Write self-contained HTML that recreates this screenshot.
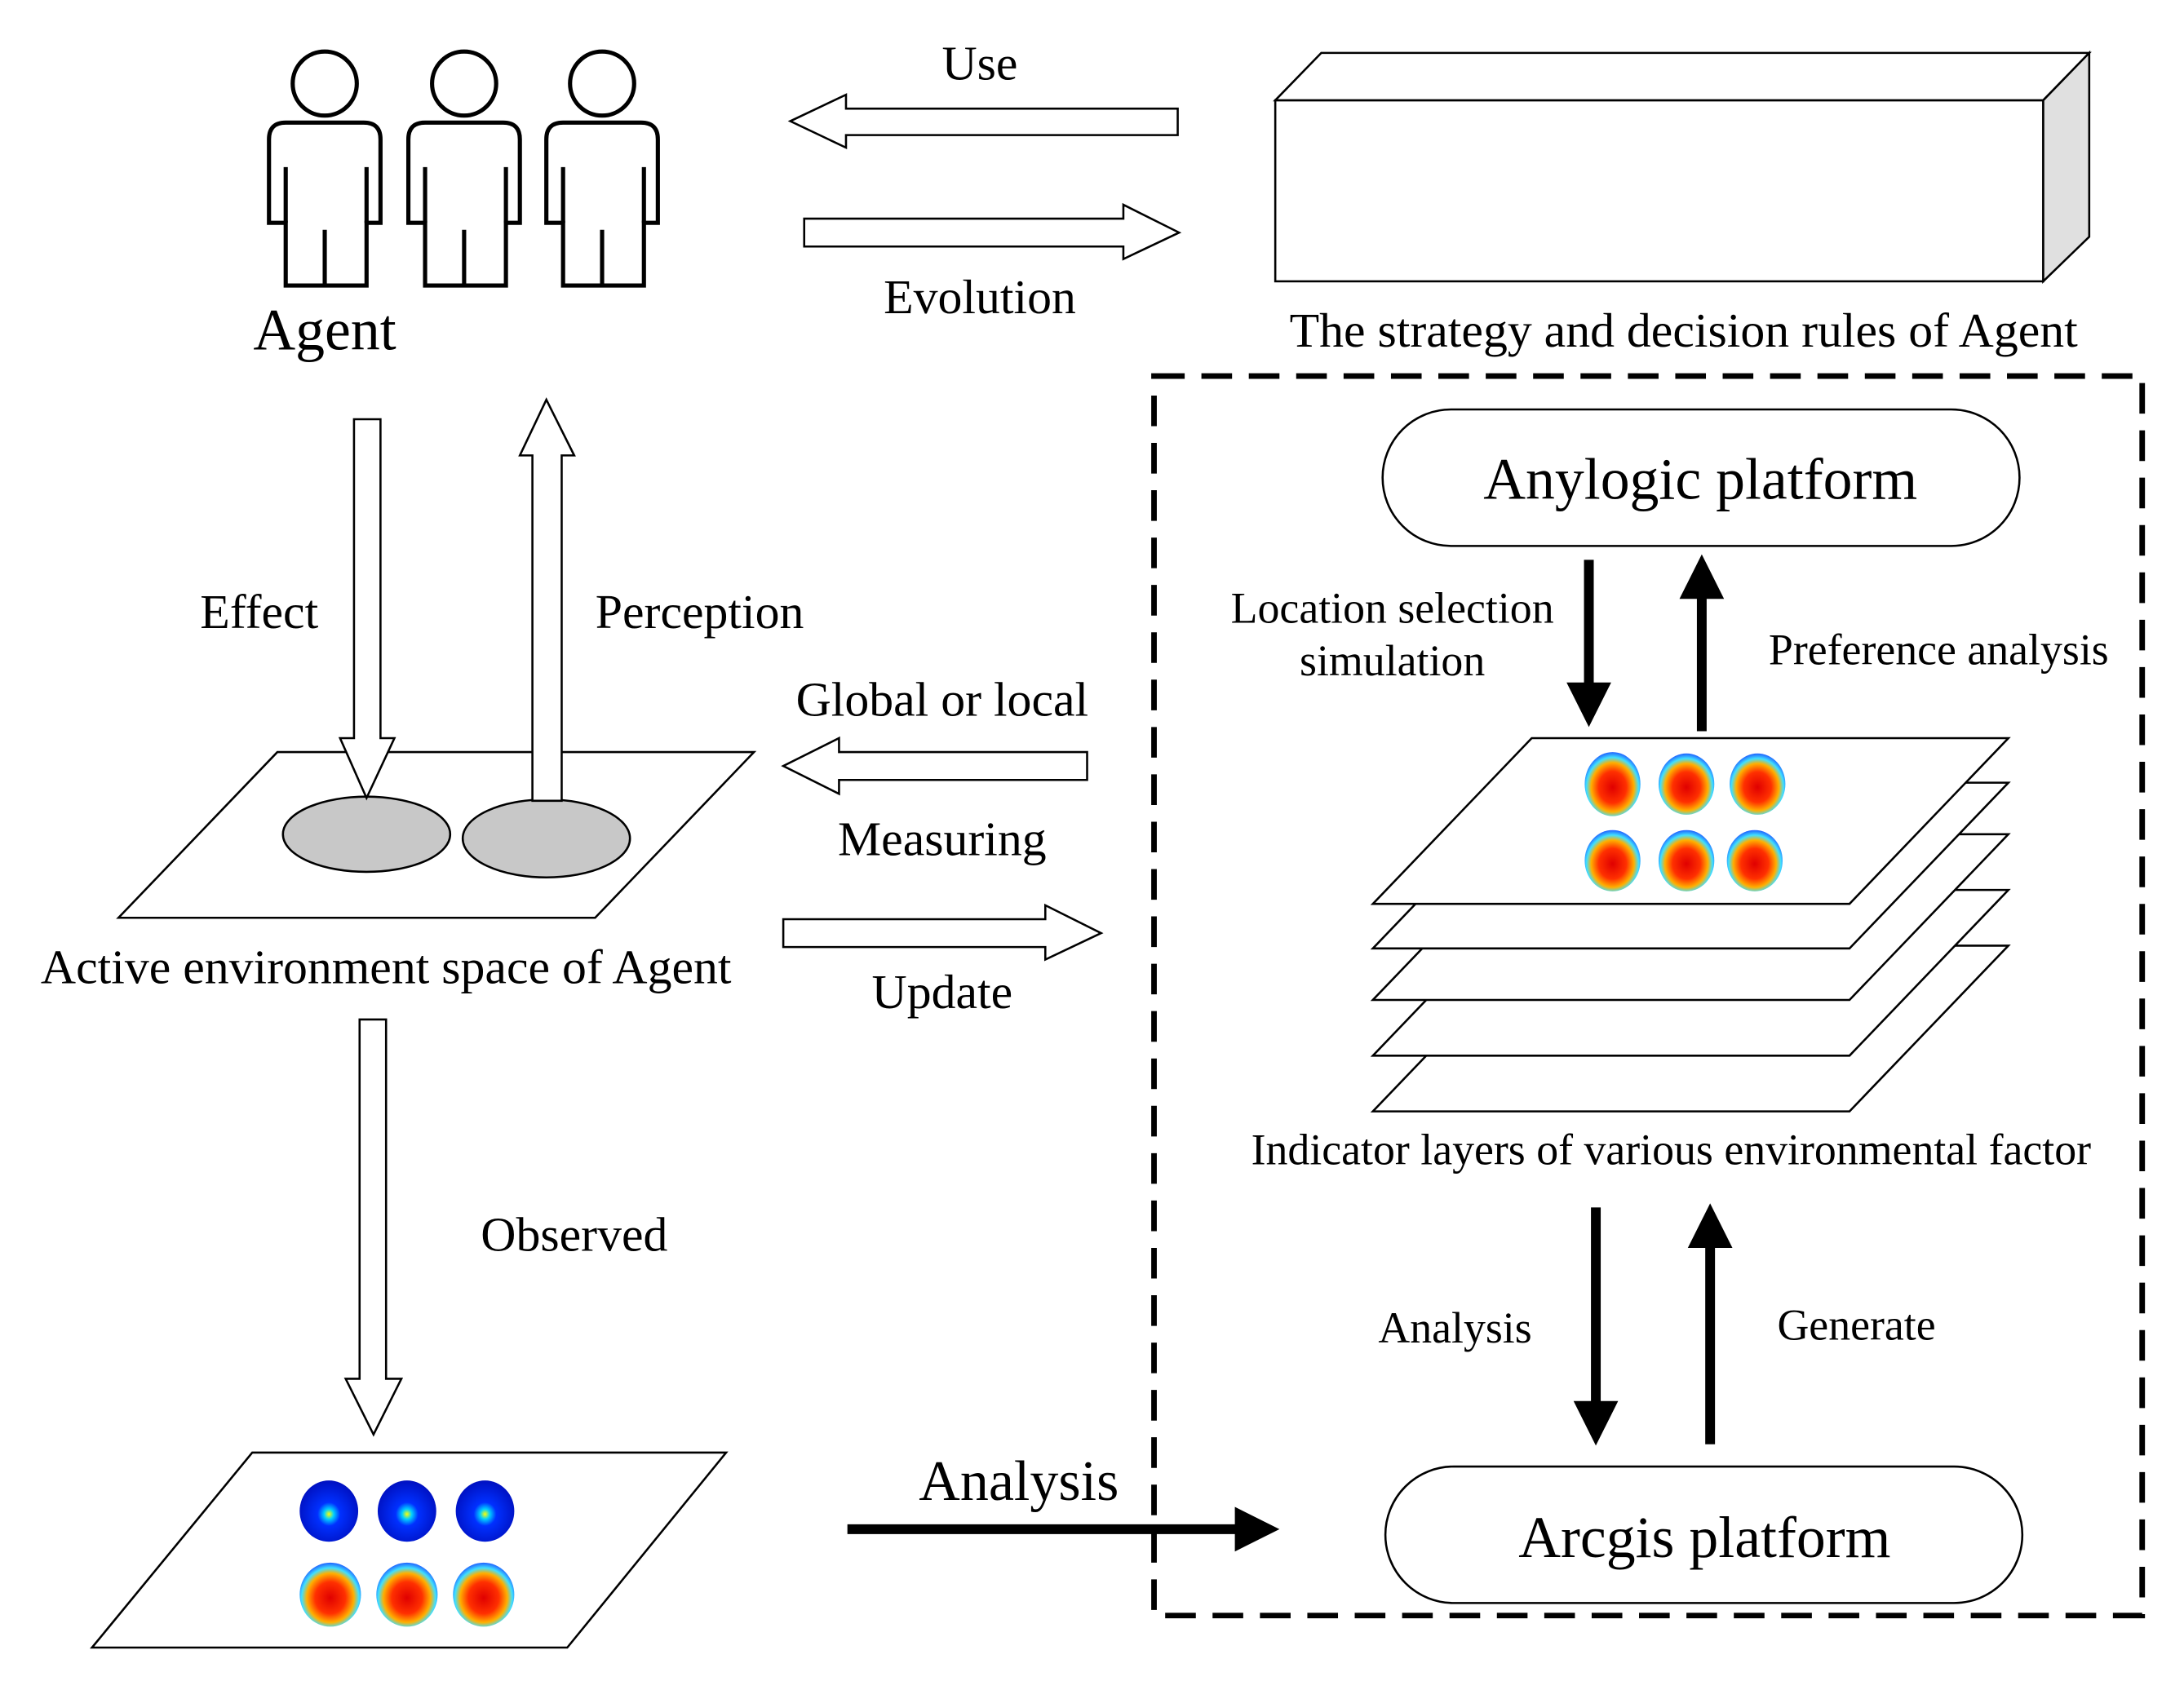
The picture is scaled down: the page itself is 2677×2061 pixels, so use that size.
<!DOCTYPE html>
<html><head><meta charset="utf-8"><style>
html,body{margin:0;padding:0;background:#fff;}
svg{display:block;}
text{font-family:"Liberation Serif",serif;fill:#000;}
</style></head><body>
<svg width="2677" height="2061" viewBox="0 0 1567 1207" preserveAspectRatio="none" xmlns="http://www.w3.org/2000/svg">
<defs>
<radialGradient id="hot" cx="50%" cy="55%" r="55%">
<stop offset="0" stop-color="#e00000"/><stop offset="0.45" stop-color="#ff3000"/><stop offset="0.7" stop-color="#ffb000"/><stop offset="0.85" stop-color="#40e0ff"/><stop offset="1" stop-color="#2060ff"/></radialGradient>
<radialGradient id="cold" cx="50%" cy="55%" r="55%">
<stop offset="0" stop-color="#ffff00"/><stop offset="0.15" stop-color="#00d0ff"/><stop offset="0.35" stop-color="#0030ff"/><stop offset="1" stop-color="#0010c0"/></radialGradient>
</defs>
<g fill="none" stroke="#000" stroke-width="3">
<g id="ag">
<circle cx="233" cy="60" r="23"/>
<path d="M193,160 V100 Q193,88 205,88 H261 Q273,88 273,100 V160 H263 V205 H205 V160 Z"/>
<path d="M205,120 V160 M263,120 V160 M233,165 V205"/>
</g>
<use href="#ag" x="100"/>
<use href="#ag" x="199"/>
</g>
<text x="233" y="251" font-size="42" text-anchor="middle">Agent</text>

<g fill="#fff" stroke="#000" stroke-width="1.5">
<polygon points="845,78 607,78 607,68 567,87 607,106 607,97 845,97"/>
<polygon points="577,157 806,157 806,147 846,167 806,186 806,177 577,177"/>
<rect x="915" y="72" width="551" height="130"/>
<polygon points="915,72 948,38 1499,38 1466,72"/>
<polygon points="1466,72 1499,38 1499,170 1466,202" fill="#e0e0e0"/>
<polygon points="199,540 541,540 427,659 85,659"/>
<ellipse cx="263" cy="599" rx="60" ry="27" fill="#c8c8c8"/>
<ellipse cx="392" cy="602" rx="60" ry="28" fill="#c8c8c8"/>
<polygon points="254,301 273,301 273,530 283,530 263,573 244,530 254,530"/>
<polygon points="382,575 403,575 403,327 412,327 392,287 373,327 382,327"/>
<polygon points="780,540 602,540 602,530 562,550 602,570 602,560 780,560"/>
<polygon points="562,660 750,660 750,650 790,670 750,689 750,680 562,680"/>
<polygon points="258,732 277,732 277,990 288,990 268,1030 248,990 258,990"/>
<polygon points="181,1043 521,1043 407,1183 66,1183"/>
<polygon points="1099,679 1441,679 1327,798 985,798"/>
<polygon points="1099,639 1441,639 1327,758 985,758"/>
<polygon points="1099,599 1441,599 1327,718 985,718"/>
<polygon points="1099,562 1441,562 1327,681 985,681"/>
<polygon points="1099,530 1441,530 1327,649 985,649"/>
<rect x="992" y="294" width="457" height="98" rx="49"/>
<rect x="994" y="1053" width="457" height="98" rx="49"/>
</g>

<g>
<ellipse cx="1157" cy="563" rx="20" ry="23" fill="url(#hot)"/>
<ellipse cx="1210" cy="563" rx="20" ry="22" fill="url(#hot)"/>
<ellipse cx="1261" cy="563" rx="20" ry="22" fill="url(#hot)"/>
<ellipse cx="1157" cy="618" rx="20" ry="22" fill="url(#hot)"/>
<ellipse cx="1210" cy="618" rx="20" ry="22" fill="url(#hot)"/>
<ellipse cx="1259" cy="618" rx="20" ry="22" fill="url(#hot)"/>
<ellipse cx="236" cy="1085" rx="21" ry="22" fill="url(#cold)"/>
<ellipse cx="292" cy="1085" rx="21" ry="22" fill="url(#cold)"/>
<ellipse cx="348" cy="1085" rx="21" ry="22" fill="url(#cold)"/>
<ellipse cx="237" cy="1145" rx="22" ry="23" fill="url(#hot)"/>
<ellipse cx="292" cy="1145" rx="22" ry="23" fill="url(#hot)"/>
<ellipse cx="347" cy="1145" rx="22" ry="23" fill="url(#hot)"/>
</g>

<rect x="828" y="270" width="709" height="890" fill="none" stroke="#000" stroke-width="4" stroke-dasharray="22 12"/>

<g stroke="#000" stroke-width="7" fill="#000">
<line x1="1140" y1="402" x2="1140" y2="492"/>
<line x1="1221" y1="525" x2="1221" y2="428"/>
<line x1="1145" y1="867" x2="1145" y2="1008"/>
<line x1="1227" y1="1037" x2="1227" y2="894"/>
<line x1="608" y1="1098" x2="888" y2="1098"/>
</g>
<g fill="#000">
<polygon points="1124,490 1156,490 1140,522"/>
<polygon points="1205,430 1237,430 1221,398"/>
<polygon points="1129,1006 1161,1006 1145,1038"/>
<polygon points="1211,896 1243,896 1227,864"/>
<polygon points="886,1082 886,1114 918,1098"/>
</g>

<g font-size="35" text-anchor="middle">
<text x="703" y="57">Use</text>
<text x="703" y="225">Evolution</text>
<text x="1208" y="249">The strategy and decision rules of Agent</text>
<text x="186" y="451">Effect</text>
<text x="502" y="451">Perception</text>
<text x="676" y="514">Global or local</text>
<text x="676" y="614">Measuring</text>
<text x="676" y="724">Update</text>
<text x="277" y="706">Active environment space of Agent</text>
<text x="412" y="898">Observed</text>
</g>
<g font-size="31.5" text-anchor="middle">
<text x="999" y="447">Location selection</text>
<text x="999" y="485">simulation</text>
<text x="1391" y="477">Preference analysis</text>
<text x="1199" y="836">Indicator layers of various environmental factor</text>
<text x="1044" y="964">Analysis</text>
<text x="1332" y="962">Generate</text>
</g>
<text x="1220" y="358" font-size="42" text-anchor="middle">Anylogic platform</text>
<text x="1223" y="1118" font-size="42" text-anchor="middle">Arcgis platform</text>
<text x="731" y="1077" font-size="41" text-anchor="middle">Analysis</text>
</svg>
</body></html>
